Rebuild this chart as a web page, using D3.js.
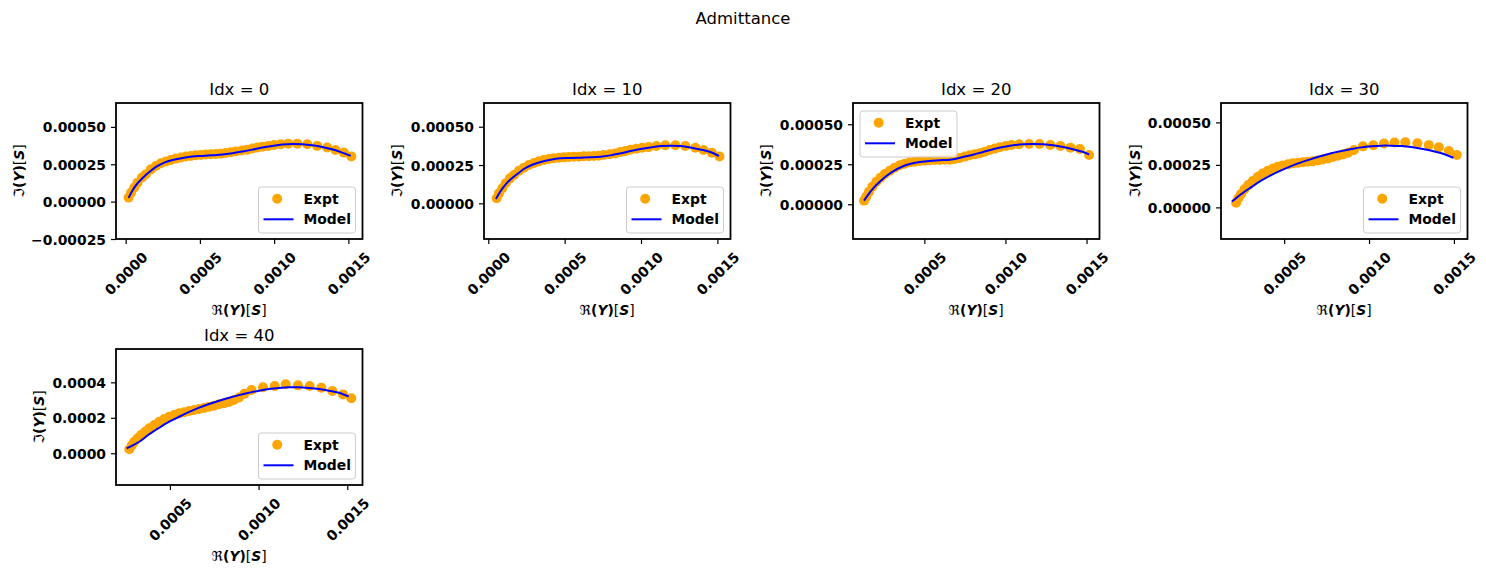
<!DOCTYPE html>
<html>
<head>
<meta charset="utf-8">
<script src="https://cdn.jsdelivr.net/npm/d3@7"></script>
<style>
	body { margin: 0; background: #fff; }
	text { font-family: "DejaVu Sans", sans-serif; }
</style>
</head>
<body>
<div id="chart"></div>
<script>

// Idx of each subplot
const panelIdx = [0, 10, 20, 30, 40];

// Idx = 0
const expt0Re = [2.0e-5,3.6e-5,5.8e-5,8.0e-5,1.10e-4,1.36e-4,1.70e-4,2.04e-4,2.37e-4,2.71e-4,3.04e-4,3.38e-4,3.72e-4,4.05e-4,4.39e-4,4.72e-4,5.06e-4,5.40e-4,5.73e-4,6.07e-4,6.40e-4,6.74e-4,7.08e-4,7.41e-4,7.82e-4,8.20e-4,8.53e-4,8.87e-4,9.21e-4,9.61e-4,9.99e-4,1.044e-3,1.095e-3,1.156e-3,1.223e-3,1.290e-3,1.357e-3,1.413e-3,1.469e-3,1.520e-3];
const expt0Im = [2.7e-5,6.0e-5,9.4e-5,1.27e-4,1.61e-4,1.83e-4,2.16e-4,2.39e-4,2.57e-4,2.68e-4,2.79e-4,2.88e-4,2.95e-4,3.02e-4,3.06e-4,3.10e-4,3.12e-4,3.15e-4,3.17e-4,3.19e-4,3.21e-4,3.26e-4,3.30e-4,3.35e-4,3.42e-4,3.48e-4,3.55e-4,3.62e-4,3.68e-4,3.73e-4,3.79e-4,3.84e-4,3.88e-4,3.88e-4,3.84e-4,3.73e-4,3.62e-4,3.46e-4,3.28e-4,3.02e-4];
const model0Re = [2.0e-5,4.7e-5,8.0e-5,1.14e-4,1.59e-4,2.04e-4,2.60e-4,3.16e-4,3.83e-4,4.50e-4,5.17e-4,5.85e-4,6.52e-4,7.19e-4,7.86e-4,8.53e-4,9.21e-4,9.88e-4,1.055e-3,1.122e-3,1.190e-3,1.257e-3,1.324e-3,1.391e-3,1.458e-3,1.516e-3];
const model0Im = [2.5e-5,7.6e-5,1.23e-4,1.58e-4,1.98e-4,2.32e-4,2.61e-4,2.79e-4,2.92e-4,3.02e-4,3.06e-4,3.10e-4,3.15e-4,3.24e-4,3.35e-4,3.48e-4,3.62e-4,3.73e-4,3.82e-4,3.86e-4,3.84e-4,3.77e-4,3.66e-4,3.50e-4,3.28e-4,3.06e-4];

// Idx = 10
const expt10Re = [5.5e-5,7.0e-5,9.2e-5,1.14e-4,1.42e-4,1.68e-4,2.01e-4,2.33e-4,2.66e-4,2.99e-4,3.31e-4,3.64e-4,3.97e-4,4.29e-4,4.62e-4,4.95e-4,5.27e-4,5.60e-4,5.93e-4,6.25e-4,6.58e-4,6.91e-4,7.23e-4,7.56e-4,7.95e-4,8.33e-4,8.65e-4,8.98e-4,9.31e-4,9.70e-4,1.007e-3,1.050e-3,1.101e-3,1.159e-3,1.225e-3,1.290e-3,1.356e-3,1.410e-3,1.464e-3,1.514e-3];
const expt10Im = [3.3e-5,6.5e-5,9.8e-5,1.31e-4,1.63e-4,1.85e-4,2.13e-4,2.32e-4,2.50e-4,2.63e-4,2.74e-4,2.83e-4,2.89e-4,2.94e-4,2.98e-4,3.00e-4,3.02e-4,3.04e-4,3.04e-4,3.07e-4,3.07e-4,3.09e-4,3.11e-4,3.15e-4,3.20e-4,3.26e-4,3.35e-4,3.41e-4,3.50e-4,3.57e-4,3.63e-4,3.67e-4,3.74e-4,3.79e-4,3.79e-4,3.74e-4,3.63e-4,3.48e-4,3.30e-4,3.06e-4];
const model10Re = [5.0e-5,8.1e-5,1.14e-4,1.47e-4,1.90e-4,2.33e-4,2.88e-4,3.43e-4,4.08e-4,4.73e-4,5.39e-4,6.04e-4,6.69e-4,7.35e-4,8.00e-4,8.65e-4,9.31e-4,9.96e-4,1.061e-3,1.127e-3,1.192e-3,1.258e-3,1.323e-3,1.388e-3,1.454e-3,1.510e-3];
const model10Im = [2.8e-5,8.0e-5,1.24e-4,1.57e-4,1.91e-4,2.24e-4,2.52e-4,2.70e-4,2.85e-4,2.94e-4,2.96e-4,2.98e-4,3.00e-4,3.04e-4,3.13e-4,3.26e-4,3.41e-4,3.54e-4,3.65e-4,3.74e-4,3.76e-4,3.74e-4,3.65e-4,3.52e-4,3.35e-4,3.09e-4];

// Idx = 20
const expt20Re = [1.28e-4,1.42e-4,1.59e-4,1.79e-4,2.04e-4,2.29e-4,2.56e-4,2.87e-4,3.17e-4,3.48e-4,3.79e-4,4.10e-4,4.41e-4,4.72e-4,5.02e-4,5.33e-4,5.64e-4,5.95e-4,6.26e-4,6.57e-4,6.88e-4,7.18e-4,7.49e-4,7.80e-4,8.11e-4,8.42e-4,8.73e-4,9.04e-4,9.34e-4,9.65e-4,1.002e-3,1.037e-3,1.084e-3,1.146e-3,1.210e-3,1.277e-3,1.339e-3,1.401e-3,1.459e-3,1.516e-3];
const expt20Im = [2.3e-5,4.8e-5,7.9e-5,1.10e-4,1.41e-4,1.66e-4,1.89e-4,2.10e-4,2.29e-4,2.44e-4,2.54e-4,2.62e-4,2.66e-4,2.71e-4,2.73e-4,2.75e-4,2.77e-4,2.77e-4,2.79e-4,2.79e-4,2.83e-4,2.89e-4,2.98e-4,3.06e-4,3.12e-4,3.19e-4,3.29e-4,3.39e-4,3.48e-4,3.56e-4,3.64e-4,3.71e-4,3.75e-4,3.77e-4,3.77e-4,3.71e-4,3.64e-4,3.54e-4,3.45e-4,3.08e-4];
const model20Re = [1.28e-4,1.63e-4,1.94e-4,2.25e-4,2.66e-4,3.07e-4,3.58e-4,4.10e-4,4.72e-4,5.33e-4,5.95e-4,6.57e-4,6.97e-4,7.39e-4,8.00e-4,8.62e-4,9.24e-4,9.86e-4,1.047e-3,1.109e-3,1.171e-3,1.232e-3,1.294e-3,1.356e-3,1.417e-3,1.479e-3,1.516e-3];
const model20Im = [2.3e-5,7.3e-5,1.10e-4,1.41e-4,1.77e-4,2.06e-4,2.33e-4,2.52e-4,2.64e-4,2.71e-4,2.75e-4,2.79e-4,2.85e-4,2.96e-4,3.10e-4,3.27e-4,3.44e-4,3.58e-4,3.69e-4,3.75e-4,3.77e-4,3.75e-4,3.69e-4,3.58e-4,3.44e-4,3.27e-4,3.12e-4];

// Idx = 30
const expt30Re = [2.17e-4,2.30e-4,2.46e-4,2.66e-4,2.89e-4,3.15e-4,3.45e-4,3.74e-4,4.04e-4,4.33e-4,4.63e-4,4.92e-4,5.22e-4,5.51e-4,5.81e-4,6.10e-4,6.40e-4,6.69e-4,6.99e-4,7.28e-4,7.58e-4,7.87e-4,8.17e-4,8.47e-4,8.76e-4,9.11e-4,9.64e-4,1.025e-3,1.088e-3,1.150e-3,1.214e-3,1.285e-3,1.352e-3,1.411e-3,1.470e-3,1.517e-3];
const expt30Im = [2.7e-5,5.3e-5,7.8e-5,1.06e-4,1.31e-4,1.55e-4,1.80e-4,2.00e-4,2.15e-4,2.29e-4,2.39e-4,2.47e-4,2.53e-4,2.59e-4,2.62e-4,2.66e-4,2.68e-4,2.72e-4,2.76e-4,2.82e-4,2.88e-4,2.96e-4,3.04e-4,3.12e-4,3.21e-4,3.37e-4,3.59e-4,3.65e-4,3.76e-4,3.82e-4,3.83e-4,3.77e-4,3.66e-4,3.53e-4,3.31e-4,3.08e-4];
const model30Re = [1.93e-4,2.46e-4,3.05e-4,3.64e-4,4.23e-4,4.82e-4,5.41e-4,6.00e-4,6.59e-4,7.18e-4,7.77e-4,8.36e-4,8.96e-4,9.55e-4,1.014e-3,1.073e-3,1.132e-3,1.191e-3,1.250e-3,1.309e-3,1.368e-3,1.427e-3,1.497e-3];
const model30Im = [3.4e-5,7.7e-5,1.18e-4,1.57e-4,1.90e-4,2.18e-4,2.43e-4,2.65e-4,2.84e-4,3.02e-4,3.18e-4,3.31e-4,3.43e-4,3.53e-4,3.59e-4,3.63e-4,3.63e-4,3.61e-4,3.55e-4,3.45e-4,3.33e-4,3.18e-4,2.92e-4];

// Idx = 40
const expt40Re = [2.71e-4,2.86e-4,2.99e-4,3.18e-4,3.37e-4,3.61e-4,3.83e-4,4.12e-4,4.40e-4,4.68e-4,4.96e-4,5.24e-4,5.52e-4,5.81e-4,6.09e-4,6.37e-4,6.65e-4,6.93e-4,7.21e-4,7.49e-4,7.78e-4,8.06e-4,8.34e-4,8.62e-4,8.90e-4,9.20e-4,9.60e-4,1.025e-3,1.091e-3,1.153e-3,1.222e-3,1.288e-3,1.354e-3,1.416e-3,1.476e-3,1.523e-3];
const expt40Im = [2.3e-5,4.7e-5,6.5e-5,8.5e-5,1.03e-4,1.22e-4,1.41e-4,1.59e-4,1.78e-4,1.93e-4,2.06e-4,2.16e-4,2.25e-4,2.31e-4,2.38e-4,2.44e-4,2.50e-4,2.55e-4,2.63e-4,2.68e-4,2.76e-4,2.82e-4,2.89e-4,3.00e-4,3.14e-4,3.35e-4,3.57e-4,3.72e-4,3.79e-4,3.89e-4,3.83e-4,3.79e-4,3.70e-4,3.51e-4,3.32e-4,3.10e-4];
const model40Re = [2.56e-4,3.27e-4,3.83e-4,4.40e-4,4.96e-4,5.52e-4,6.09e-4,6.65e-4,7.21e-4,7.78e-4,8.34e-4,8.90e-4,9.46e-4,1.003e-3,1.059e-3,1.115e-3,1.172e-3,1.228e-3,1.284e-3,1.341e-3,1.397e-3,1.453e-3,1.508e-3];
const model40Im = [2.8e-5,6.5e-5,1.07e-4,1.44e-4,1.78e-4,2.06e-4,2.33e-4,2.57e-4,2.78e-4,2.96e-4,3.13e-4,3.28e-4,3.41e-4,3.53e-4,3.62e-4,3.68e-4,3.72e-4,3.72e-4,3.68e-4,3.62e-4,3.53e-4,3.41e-4,3.20e-4];

// axis limits and ticks
const xLimits = [[-0.000065, 0.001595], [-0.000028, 0.001586], [0.00006, 0.00158], [0.000128, 0.00158], [0.000196, 0.001586]];
const yLimits = [[-0.00025, 0.00066], [-0.000233, 0.000655], [-0.000217, 0.000633], [-0.000186, 0.000614], [-0.000179, 0.000588]];
const xTicksFull = [0, 0.0005, 0.001, 0.0015];
const xTicksShort = [0.0005, 0.001, 0.0015];
const yTicksWide = [-0.00025, 0, 0.00025, 0.0005];
const yTicksQuarter = [0, 0.00025, 0.0005];
const yTicksFifth = [0, 0.0002, 0.0004];

const exptRe = [expt0Re, expt10Re, expt20Re, expt30Re, expt40Re];
const exptIm = [expt0Im, expt10Im, expt20Im, expt30Im, expt40Im];
const modelRe = [model0Re, model10Re, model20Re, model30Re, model40Re];
const modelIm = [model0Im, model10Im, model20Im, model30Im, model40Im];
const xTicks = [xTicksFull, xTicksFull, xTicksShort, xTicksShort, xTicksShort];
const yTicks = [yTicksWide, yTicksQuarter, yTicksQuarter, yTicksQuarter, yTicksFifth];
const yFormats = [".5f", ".5f", ".5f", ".5f", ".4f"];
const legendLoc = ["lower right", "lower right", "upper left", "lower right", "lower right"];


const W = 1486, H = 574;
const FONT = 13.9;
const DOT_R = 5;

class AdmittancePanel {

	constructor(svg, cfg) {
		this.svg = svg;
		this.cfg = cfg;
		this.initVis();
	}

	initVis() {
		let vis = this;
		let c = vis.cfg;

		vis.width = c.width;
		vis.height = c.height;

		vis.g = vis.svg.append("g")
			.attr("transform", "translate(" + c.left + "," + c.top + ")");

		vis.x = d3.scaleLinear().domain(c.xDomain).range([0, vis.width]);
		vis.y = d3.scaleLinear().domain(c.yDomain).range([vis.height, 0]);

		vis.g.append("defs").append("clipPath")
			.attr("id", "clip" + c.idx)
			.append("rect")
			.attr("width", vis.width)
			.attr("height", vis.height);

		vis.plot = vis.g.append("g").attr("clip-path", "url(#clip" + c.idx + ")");

		vis.xAxis = d3.axisBottom(vis.x).tickValues(c.xTicks).tickFormat(d3.format(".4f")).tickSize(5).tickPadding(5);
		vis.yAxis = d3.axisLeft(vis.y).tickValues(c.yTicks).tickFormat(d3.format(c.yFormat)).tickSize(5).tickPadding(5);

		vis.line = d3.line()
			.curve(d3.curveCatmullRom)
			.x(d => vis.x(d.re))
			.y(d => vis.y(d.im));

		vis.updateVis();
	}

	updateVis() {
		let vis = this;
		let c = vis.cfg;

		// experimental points
		vis.plot.selectAll("circle")
			.data(c.expt)
			.enter().append("circle")
			.attr("cx", d => vis.x(d.re))
			.attr("cy", d => vis.y(d.im))
			.attr("r", DOT_R)
			.attr("fill", "#FFA500");

		// fitted model
		vis.plot.append("path")
			.datum(c.model)
			.attr("d", vis.line)
			.attr("fill", "none")
			.attr("stroke", "#0000FF")
			.attr("stroke-width", 2);

		// x axis with rotated labels
		let xg = vis.g.append("g")
			.attr("transform", "translate(0," + vis.height + ")")
			.call(vis.xAxis);
		xg.select(".domain").remove();
		xg.selectAll(".tick line").attr("stroke", "#000").attr("stroke-width", 1.2);
		xg.selectAll(".tick text")
			.attr("fill", "#000")
			.style("font-family", "DejaVu Sans")
			.style("font-size", FONT + "px")
			.style("font-weight", "bold")
			.attr("y", null)
			.attr("dy", null)
			.attr("text-anchor", "middle")
			.attr("dominant-baseline", "central")
			.each(function() {
				let w = this.getComputedTextLength();
				let half = (w + FONT * 1.17) * Math.SQRT1_2 / 2;
				d3.select(this).attr("transform", "translate(0," + (5 + 4.9 + half) + ") rotate(-45)");
			});

		// y axis
		let yg = vis.g.append("g").call(vis.yAxis);
		yg.select(".domain").remove();
		yg.selectAll(".tick line").attr("stroke", "#000").attr("stroke-width", 1.2);
		yg.selectAll(".tick text")
			.attr("fill", "#000")
			.style("font-family", "DejaVu Sans")
			.style("font-size", FONT + "px")
			.style("font-weight", "bold")
			.attr("dy", null)
			.attr("dominant-baseline", "central");

		// frame
		vis.g.append("rect")
			.attr("width", vis.width)
			.attr("height", vis.height)
			.attr("fill", "none")
			.attr("stroke", "#000")
			.attr("stroke-width", 1.8);

		// title
		vis.g.append("text")
			.attr("x", vis.width / 2)
			.attr("y", -8.5)
			.attr("text-anchor", "middle")
			.style("font-size", "16.5px")
			.text("Idx = " + c.idx);

		// axis labels
		vis.mathLabel(vis.g.append("text")
			.attr("x", vis.width / 2)
			.attr("y", vis.height + 76)
			.attr("text-anchor", "middle"), "\u211C");

		vis.mathLabel(vis.g.append("text")
			.attr("transform", "translate(" + (-c.yLabelOffset) + "," + (vis.height / 2) + ") rotate(-90)")
			.attr("text-anchor", "middle")
			.attr("dominant-baseline", "central"), "\u2111");

		vis.drawLegend();
	}

	mathLabel(t, op) {
		t.style("font-size", FONT + "px");
		t.append("tspan").text(op);
		t.append("tspan").style("font-weight", "bold").text("(");
		t.append("tspan").style("font-weight", "bold").style("font-style", "italic").text("Y");
		t.append("tspan").style("font-weight", "bold").text(")");
		t.append("tspan").text("[");
		t.append("tspan").style("font-weight", "bold").style("font-style", "italic").text("S");
		t.append("tspan").text("]");
	}

	drawLegend() {
		let vis = this;
		let lw = 97, lh = 46;
		let lx, ly;
		if (vis.cfg.legend === "upper left") {
			lx = 7; ly = 8;
		} else {
			lx = vis.width - 7 - lw; ly = vis.height - 6 - lh;
		}
		let lg = vis.g.append("g").attr("transform", "translate(" + lx + "," + ly + ")");

		lg.append("rect")
			.attr("width", lw).attr("height", lh)
			.attr("rx", 3)
			.attr("fill", "#fff").attr("fill-opacity", 0.8)
			.attr("stroke", "#ccc").attr("stroke-width", 1);

		lg.append("circle").attr("cx", 18.7).attr("cy", 11.8).attr("r", DOT_R).attr("fill", "#FFA500");
		lg.append("line").attr("x1", 5).attr("x2", 35).attr("y1", 32.3).attr("y2", 32.3)
			.attr("stroke", "#0000FF").attr("stroke-width", 2);

		lg.selectAll("text.lbl")
			.data(["Expt", "Model"])
			.enter().append("text")
			.attr("class", "lbl")
			.attr("x", 45)
			.attr("y", (d, i) => i === 0 ? 11.8 : 32.3)
			.attr("dominant-baseline", "central")
			.style("font-size", FONT + "px")
			.style("font-weight", "bold")
			.text(d => d);
	}
}


let svg = d3.select("#chart").append("svg")
	.attr("width", W)
	.attr("height", H);

svg.append("text")
	.attr("x", 743)
	.attr("y", 24)
	.attr("text-anchor", "middle")
	.style("font-size", "16.5px")
	.text("Admittance");

const colLeft = [116, 484, 853, 1221];
const rowTop = [103, 349];
const yLabelOffsets = [97, 87, 87, 86, 77];

panelIdx.forEach(function(idx, i) {
	new AdmittancePanel(svg, {
		idx: idx,
		left: colLeft[i % 4],
		top: rowTop[Math.floor(i / 4)],
		width: 246.5,
		height: 136,
		xDomain: xLimits[i],
		yDomain: yLimits[i],
		xTicks: xTicks[i],
		yTicks: yTicks[i],
		yFormat: yFormats[i],
		yLabelOffset: yLabelOffsets[i],
		legend: legendLoc[i],
		expt: exptRe[i].map((re, j) => ({re: re, im: exptIm[i][j]})),
		model: modelRe[i].map((re, j) => ({re: re, im: modelIm[i][j]}))
	});
});

</script>
</body>
</html>
